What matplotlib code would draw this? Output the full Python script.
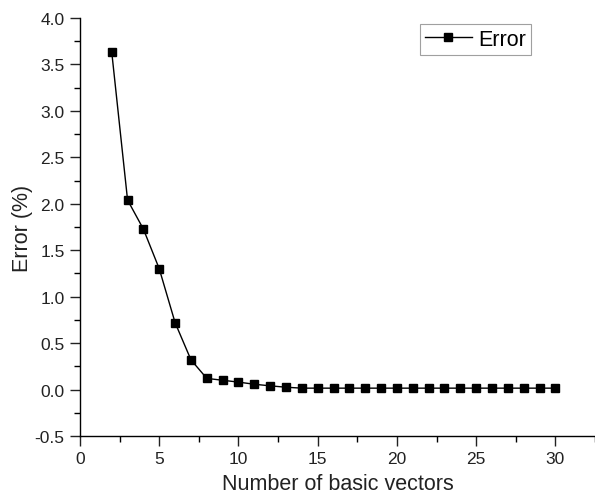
import matplotlib
matplotlib.use("Agg")
import matplotlib.pyplot as plt
from matplotlib.ticker import MultipleLocator

plt.rcParams['font.family'] = ['Liberation Sans', 'DejaVu Sans']

n_vectors = list(range(2, 31))
error = [3.635, 2.04, 1.727, 1.30, 0.72, 0.32, 0.12, 0.10, 0.08, 0.057, 0.04, 0.025,
         0.015, 0.015, 0.015, 0.015, 0.015, 0.015, 0.015, 0.015, 0.015, 0.015,
         0.015, 0.015, 0.015, 0.015, 0.015, 0.015, 0.015]

fig = plt.figure(figsize=(5.95, 5.02), dpi=100)
ax = fig.add_axes([0.1345, 0.1295, 0.8655, 0.8327])

ax.plot(n_vectors, error, color='black', lw=1.0, marker='s', ms=6, label='Error')

ax.set_xlim(0, 32.5)
ax.set_ylim(-0.5, 4.0)
ax.xaxis.set_major_locator(MultipleLocator(5))
ax.xaxis.set_minor_locator(MultipleLocator(2.5))
ax.yaxis.set_major_locator(MultipleLocator(0.5))
ax.yaxis.set_minor_locator(MultipleLocator(0.25))
ax.yaxis.set_major_formatter(matplotlib.ticker.FormatStrFormatter('%.1f'))

for s in ['top', 'right']:
    ax.spines[s].set_visible(False)
for s in ['left', 'bottom']:
    ax.spines[s].set_linewidth(1.0)
ax.tick_params(which='major', direction='out', length=7, width=1.0, labelsize=12.5,
               colors='#222222', pad=4)
ax.tick_params(which='minor', direction='out', length=4, width=1.0)

ax.set_xlabel('Number of basic vectors', fontsize=15.5, labelpad=5, color='#222222')
ax.set_ylabel('Error (%)', fontsize=15.5, labelpad=1, color='#222222')

leg = ax.legend(loc='upper right', bbox_to_anchor=(0.876, 0.985), fontsize=15.5, frameon=True,
                fancybox=False, borderpad=0.22, handlelength=2.2, handletextpad=0.3,
                borderaxespad=0.0)
leg.get_frame().set_edgecolor('#888888')
leg.get_frame().set_linewidth(0.8)

fig.savefig('out.png', dpi=100)
